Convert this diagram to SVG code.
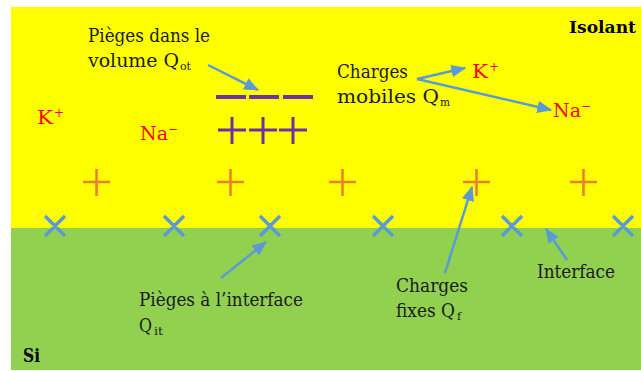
<svg xmlns="http://www.w3.org/2000/svg" width="641" height="371" viewBox="0 0 641 371">
<style>
text{font-family:"DejaVu Serif","Liberation Serif",serif;}
.lbl{font-size:18px;fill:#1a1a1a;}
.ion{font-size:18px;fill:#ff0000;}
.sub{font-size:11px;}
.isub{font-size:12px;fill:#ff0000;}
.b{font-weight:bold;fill:#000;}
.fix{stroke:#ED7D31;stroke-width:2.5;fill:none;}
.it{stroke:#5B9BD5;stroke-width:3.5;fill:none;}
.pur{stroke:#7030A0;fill:none;}
.arr{stroke:#5B9BD5;stroke-width:2.5;fill:none;marker-end:url(#ah);}
</style>
<defs>
<marker id="ah" markerWidth="6" markerHeight="5" refX="5.5" refY="2.5" orient="auto" markerUnits="strokeWidth">
<path d="M0,0 L6,2.5 L0,5 Z" fill="#5B9BD5"/>
</marker>
</defs>
<rect x="0" y="0" width="641" height="371" fill="#fff"/>
<g id="isolant"><rect x="11" y="7" width="630" height="221" fill="#FFFF00"/>
<text class="b" x="569" y="33" font-size="17" textLength="67" lengthAdjust="spacingAndGlyphs">Isolant</text></g>
<g id="si"><rect x="11" y="228" width="630" height="142" fill="#92D050"/>
<text class="b" x="23" y="362" font-size="19" textLength="17" lengthAdjust="spacingAndGlyphs">Si</text></g>
<g id="fixed-charges">
<path class="fix" d="M83,182h27M96.5,169v27M217,182h27M230.5,169v27M329,182h27M342.5,169v27M463,182h27M476.5,169v27M570,182h27M583.5,169v27"/>
</g>
<g id="interface-traps">
<path class="it" d="M45,216l20,20M65,216l-20,20M164,216l20,20M184,216l-20,20M260,216l20,20M280,216l-20,20M373,216l20,20M393,216l-20,20M502,216l20,20M522,216l-20,20M613,216l20,20M633,216l-20,20"/>
</g>
<g id="volume-traps">
<path class="pur" stroke-width="4" d="M216,97h30M249,97h30M283,97h30"/>
<path class="pur" stroke-width="3" d="M218,130h28M232,117v27M249,130h28M263,117v27M279,130h28M293,117v27"/>
</g>
<g id="ions">
<text class="ion" x="37" y="124" textLength="16" lengthAdjust="spacingAndGlyphs">K</text><text class="isub" x="54" y="117">+</text>
<text class="ion" x="140" y="140" textLength="28" lengthAdjust="spacingAndGlyphs">Na</text><text class="isub" x="168" y="133">−</text>
<text class="ion" x="472" y="78" textLength="16" lengthAdjust="spacingAndGlyphs">K</text><text class="isub" x="489" y="71">+</text>
<text class="ion" x="553" y="117" textLength="28" lengthAdjust="spacingAndGlyphs">Na</text><text class="isub" x="581" y="110">−</text>
</g>
<g id="label-volume">
<text class="lbl" x="88" y="42" textLength="122" lengthAdjust="spacingAndGlyphs">Pièges dans le</text>
<text class="lbl" x="88" y="67" textLength="91" lengthAdjust="spacingAndGlyphs">volume Q</text>
<text class="lbl sub" x="180" y="70" textLength="11" lengthAdjust="spacingAndGlyphs">ot</text>
</g>
<g id="label-mobile">
<text class="lbl" x="337" y="78" textLength="71" lengthAdjust="spacingAndGlyphs">Charges</text>
<text class="lbl" x="337" y="103" textLength="102" lengthAdjust="spacingAndGlyphs">mobiles Q</text>
<text class="lbl sub" x="440" y="106" textLength="10" lengthAdjust="spacingAndGlyphs">m</text>
</g>
<g id="label-interface-traps">
<text class="lbl" x="139" y="306" textLength="164" lengthAdjust="spacingAndGlyphs">Pièges à l’interface</text>
<text class="lbl" x="139" y="332" textLength="13" lengthAdjust="spacingAndGlyphs">Q</text>
<text class="lbl sub" x="154" y="335" textLength="9" lengthAdjust="spacingAndGlyphs">it</text>
</g>
<g id="label-fixed">
<text class="lbl" x="396" y="292" textLength="72" lengthAdjust="spacingAndGlyphs">Charges</text>
<text class="lbl" x="396" y="317" textLength="59" lengthAdjust="spacingAndGlyphs">fixes Q</text>
<text class="lbl sub" x="457" y="320">f</text>
</g>
<g id="label-interface">
<text class="lbl" x="537" y="278" textLength="78" lengthAdjust="spacingAndGlyphs">Interface</text>
</g>
<g id="connectors">
<path class="arr" d="M208,65L258,90"/>
<path class="arr" d="M417,79L465,68"/>
<path class="arr" d="M417,79L551,110"/>
<path class="arr" d="M221,278L266,242"/>
<path class="arr" d="M445,273L472,187"/>
<path class="arr" d="M567,260L546,229"/>
</g>
</svg>
